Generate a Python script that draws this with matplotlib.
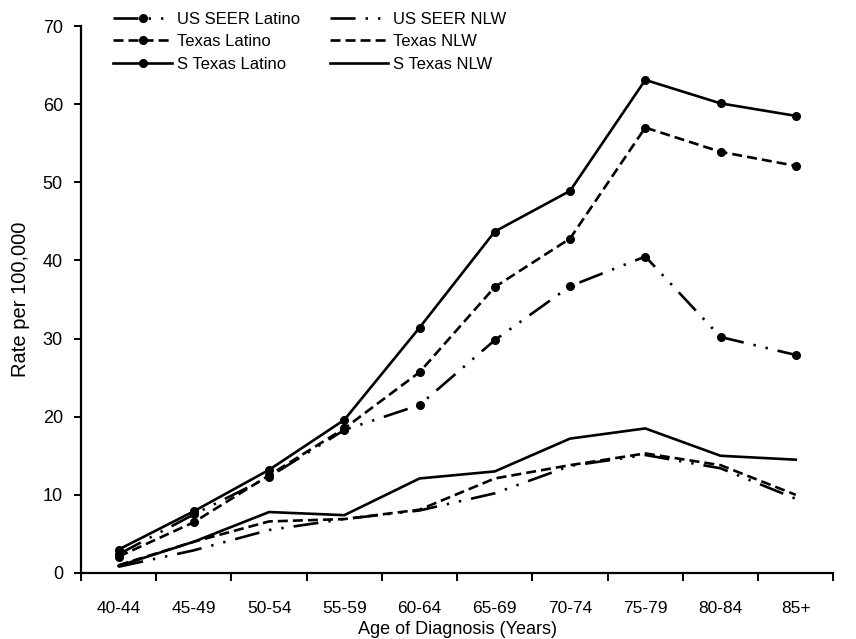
import numpy as np
import matplotlib
matplotlib.use("Agg")
import matplotlib.pyplot as plt
from matplotlib.ticker import FixedLocator

plt.rcParams["font.family"] = ["Liberation Sans", "DejaVu Sans"]

ages = ["40-44", "45-49", "50-54", "55-59", "60-64", "65-69",
        "70-74", "75-79", "80-84", "85+"]

us_latino = [2.4, 7.5, 12.3, 18.3, 21.5, 29.8, 36.7, 40.5, 30.2, 27.9]
tx_latino = [2.1, 6.5, 12.5, 18.5, 25.7, 36.6, 42.8, 57.0, 53.9, 52.1]
stx_latino = [3.0, 7.9, 13.2, 19.6, 31.4, 43.7, 48.9, 63.1, 60.1, 58.5]

us_nlw = [0.8, 2.9, 5.5, 6.9, 8.0, 10.2, 13.7, 15.1, 13.4, 9.5]
tx_nlw = [1.0, 4.0, 6.6, 6.9, 8.1, 12.1, 13.8, 15.3, 13.8, 10.0]
stx_nlw = [0.9, 4.0, 7.8, 7.4, 12.1, 13.0, 17.2, 18.5, 15.0, 14.5]

x = np.arange(len(ages))

fig = plt.figure(figsize=(8.56, 6.39), dpi=100)
ax = fig.add_axes([0.0946, 0.1033, 0.879, 0.856])

lw = 1.9
dashdotdot = (0, (9.5, 3.8, 0.9, 3.8, 0.9, 3.8))
dashed = (0, (3.8, 1.9))

h1, = ax.plot(x, us_latino, color="black", lw=lw, linestyle=dashdotdot,
              marker="o", ms=5.5, label="US SEER Latino")
h2, = ax.plot(x, tx_latino, color="black", lw=lw, linestyle=dashed,
              marker="o", ms=5.5, label="Texas Latino")
h3, = ax.plot(x, stx_latino, color="black", lw=lw, linestyle="-",
              marker="o", ms=5.5, label="S Texas Latino")
h4, = ax.plot(x, us_nlw, color="black", lw=lw, linestyle=dashdotdot,
              label="US SEER NLW")
h5, = ax.plot(x, tx_nlw, color="black", lw=lw, linestyle=dashed,
              label="Texas NLW")
h6, = ax.plot(x, stx_nlw, color="black", lw=lw, linestyle="-",
              label="S Texas NLW")

ax.set_xlim(-0.5, len(ages) - 0.5)
ax.set_ylim(0, 70)
ax.set_yticks(np.arange(0, 71, 10))
ax.set_xticks(x)
ax.set_xticklabels(ages)
ax.xaxis.set_minor_locator(FixedLocator(np.arange(-0.5, len(ages), 1.0)))
ax.tick_params(axis="x", which="major", length=0, pad=20, labelsize=12.5)
ax.tick_params(axis="x", which="minor", length=6, width=1.4, direction="out")
ax.tick_params(axis="y", length=5, width=1.4, direction="out", labelsize=13,
               pad=8)

for s in ["top", "right"]:
    ax.spines[s].set_visible(False)
for s in ["left", "bottom"]:
    ax.spines[s].set_linewidth(1.6)

ax.set_xlabel("Age of Diagnosis (Years)", fontsize=13, va="center")
ax.xaxis.set_label_coords(0.5, -0.103)
ax.set_ylabel("Rate per 100,000", fontsize=14.5, va="center")
ax.yaxis.set_label_coords(-0.081, 0.5)

fig.legend(handles=[h1, h2, h3, h4, h5, h6], ncol=2, frameon=False,
           loc="upper left", bbox_to_anchor=(0.115, 1.005), fontsize=12,
           handlelength=3.5, handletextpad=0.3, columnspacing=1.8,
           labelspacing=0.45)

fig.savefig("out.png", dpi=100, facecolor="white")
